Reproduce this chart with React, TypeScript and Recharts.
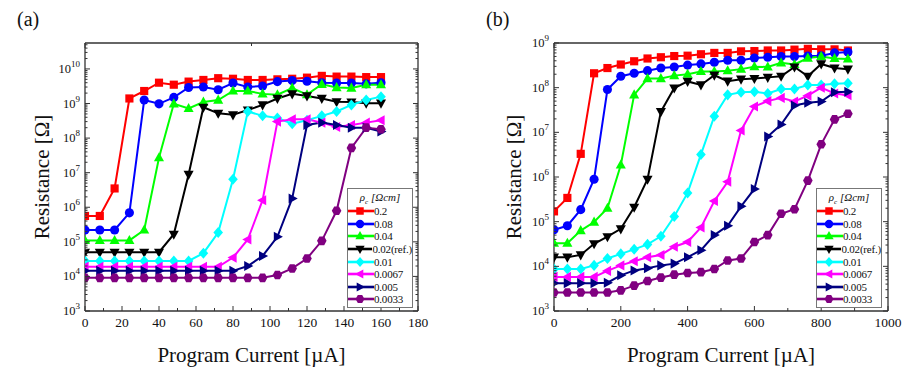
import React from 'react';
import { LineChart, Line, XAxis, YAxis, Legend } from 'recharts';

// panel (a): 8 uA steps
const currentA = [0, 8, 16, 24, 32, 40, 48, 56, 64, 72, 80, 88, 96, 104, 112, 120, 128, 136, 144, 152, 160];
const resA_02 = [5.6e5, 5.6e5, 3.5e6, 1.4e9, 2.3e9, 4.0e9, 3.5e9, 4.3e9, 4.8e9, 5.4e9, 5.2e9, 4.8e9, 4.8e9, 5.0e9, 5.2e9, 5.6e9, 6.3e9, 6.0e9, 6.0e9, 5.8e9, 5.8e9];
const resA_008 = [2.2e5, 2.2e5, 2.2e5, 6.9e5, 1.26e9, 9.8e8, 1.5e9, 2.9e9, 3.0e9, 2.5e9, 3.9e9, 3.0e9, 3.2e9, 4.3e9, 4.6e9, 4.4e9, 4.0e9, 3.9e9, 3.9e9, 3.7e9, 4.0e9];
const resA_004 = [1.1e5, 1.1e5, 1.1e5, 1.1e5, 2.2e5, 2.7e7, 9.8e8, 7.2e8, 1.1e9, 1.26e9, 2.3e9, 2.3e9, 1.9e9, 1.8e9, 2.8e9, 1.8e9, 3.6e9, 2.9e9, 2.8e9, 3.5e9, 3.5e9];
const resA_002 = [5.0e4, 5.0e4, 5.0e4, 5.0e4, 5.0e4, 5.0e4, 1.66e5, 8.9e6, 7.8e8, 5.2e8, 4.7e8, 6.5e8, 9.1e8, 1.4e9, 1.9e9, 1.66e9, 1.4e9, 1.12e9, 1.1e9, 1.02e9, 1.02e9];
const resA_001 = [2.8e4, 2.8e4, 2.8e4, 2.8e4, 2.8e4, 2.8e4, 2.8e4, 2.8e4, 4.7e4, 1.86e5, 6.5e6, 5.9e8, 4.4e8, 3.8e8, 2.6e8, 3.3e8, 4.4e8, 5.9e8, 9.1e8, 1.26e9, 1.58e9];
const resA_00067 = [1.9e4, 1.9e4, 1.9e4, 1.9e4, 1.9e4, 1.9e4, 1.9e4, 1.9e4, 1.9e4, 1.9e4, 3.5e4, 1.17e5, 1.6e6, 3.0e8, 3.5e8, 3.5e8, 2.8e8, 2.1e8, 2.4e8, 2.8e8, 3.3e8];
const resA_0005 = [1.45e4, 1.45e4, 1.45e4, 1.45e4, 1.45e4, 1.45e4, 1.45e4, 1.45e4, 1.45e4, 1.45e4, 1.45e4, 2.0e4, 3.9e4, 1.4e5, 1.8e6, 2.4e8, 2.8e8, 2.4e8, 2.0e8, 2.0e8, 1.55e8];
const resA_00033 = [9.1e3, 9.1e3, 9.1e3, 9.1e3, 9.1e3, 9.1e3, 9.1e3, 9.1e3, 9.1e3, 9.1e3, 9.1e3, 9.1e3, 9.1e3, 1.1e4, 1.7e4, 3.3e4, 1.07e5, 7.9e5, 5.2e7, 2.0e8, 1.8e8];

// panel (b): 40 uA steps
const currentB = [0, 40, 80, 120, 160, 200, 240, 280, 320, 360, 400, 440, 480, 520, 560, 600, 640, 680, 720, 760, 800, 840, 880];
const resB_02 = [1.7e5, 3.4e5, 3.3e6, 2.1e8, 2.75e8, 3.3e8, 3.9e8, 4.5e8, 4.8e8, 5.1e8, 5.2e8, 5.6e8, 6.0e8, 6.0e8, 6.5e8, 6.6e8, 6.8e8, 6.8e8, 7.1e8, 7.4e8, 7.2e8, 7.2e8, 6.8e8];
const resB_008 = [6.6e4, 8.1e4, 1.86e5, 8.9e5, 9.1e7, 1.8e8, 2.1e8, 2.4e8, 2.75e8, 2.9e8, 3.2e8, 3.4e8, 3.7e8, 4.1e8, 4.1e8, 4.6e8, 4.8e8, 5.0e8, 5.0e8, 5.1e8, 5.2e8, 6.0e8, 6.3e8];
const resB_004 = [3.3e4, 3.3e4, 6.3e4, 9.8e4, 2.0e5, 1.86e6, 6.9e7, 1.6e8, 1.6e8, 1.86e8, 2.0e8, 2.3e8, 2.3e8, 2.4e8, 2.6e8, 2.95e8, 2.9e8, 3.6e8, 3.3e8, 4.6e8, 5.0e8, 4.5e8, 4.4e8];
const resB_002 = [1.6e4, 1.6e4, 1.8e4, 3.2e4, 4.6e4, 6.9e4, 2.1e5, 8.9e5, 2.9e7, 9.8e7, 1.38e8, 1.15e8, 1.9e8, 1.4e8, 1.55e8, 1.6e8, 1.7e8, 1.8e8, 2.9e8, 1.8e8, 3.4e8, 2.75e8, 2.6e8];
const resB_001 = [8.7e3, 8.7e3, 8.7e3, 1.05e4, 1.5e4, 1.9e4, 2.4e4, 3.1e4, 4.7e4, 1.3e5, 4.4e5, 3.2e6, 2.3e7, 6.9e7, 7.9e7, 8.1e7, 7.4e7, 9.3e7, 9.3e7, 1.15e8, 1.15e8, 1.23e8, 1.26e8];
const resB_00067 = [5.8e3, 5.8e3, 5.8e3, 5.8e3, 7.9e3, 1.05e4, 1.3e4, 1.6e4, 1.8e4, 2.75e4, 3.5e4, 7.4e4, 2.9e5, 7.8e5, 1.1e7, 3.8e7, 5.0e7, 5.9e7, 4.9e7, 6.6e7, 1.0e8, 7.4e7, 6.8e7];
const resB_0005 = [4.2e3, 4.2e3, 4.2e3, 4.2e3, 4.3e3, 6.3e3, 8.1e3, 9.1e3, 1.05e4, 1.15e4, 1.6e4, 2.3e4, 5.0e4, 8.1e4, 2.2e5, 5.4e5, 8.1e6, 1.5e7, 4.0e7, 4.6e7, 4.9e7, 7.9e7, 8.1e7];
const resB_00033 = [2.6e3, 2.6e3, 2.6e3, 2.6e3, 2.6e3, 2.9e3, 3.7e3, 4.7e3, 5.6e3, 6.5e3, 7.1e3, 7.4e3, 8.7e3, 1.35e4, 1.5e4, 3.5e4, 5.0e4, 1.5e5, 1.9e5, 8.3e5, 5.4e6, 1.95e7, 2.6e7];

const seriesNames = ['0.2', '0.08', '0.04', '0.02(ref.)', '0.01', '0.0067', '0.005', '0.0033'];
const seriesColors = ['#ff0000', '#0000ff', '#00ff00', '#000000', '#00ffff', '#ff00ff', '#000080', '#800080'];
const seriesShapes = ['square', 'circle', 'up', 'down', 'diamond', 'left', 'right', 'hex'];

const xTicksA = [0, 10, 20, 30, 40, 50, 60, 70, 80, 90, 100, 110, 120, 130, 140, 150, 160, 170, 180];
const xTicksB = [0, 100, 200, 300, 400, 500, 600, 700, 800, 900, 1000];
const decadesA = [3, 4, 5, 6, 7, 8, 9, 10];
const decadesB = [3, 4, 5, 6, 7, 8, 9];

const FONT = '"Liberation Serif", "Times New Roman", serif';
const AXIS = '#333';

const logTicks = (decades: number[], max: number) => {
  const out: number[] = [];
  decades.forEach((e) => {
    for (let m = 1; m <= 9; m++) {
      const v = m * Math.pow(10, e);
      if (v <= max) out.push(v);
    }
  });
  return out;
};

const isDecade = (v: number) => Math.abs(Math.log10(v) - Math.round(Math.log10(v))) < 1e-6;

const Marker = ({ cx, cy, shape, color, r = 4.8 }: any) => {
  if (cx == null || cy == null) return null;
  const p = (pts: number[][]) => pts.map(([a, b]) => `${cx + a * r},${cy + b * r}`).join(' ');
  switch (shape) {
    case 'square':
      return <rect x={cx - r * 0.85} y={cy - r * 0.85} width={r * 1.7} height={r * 1.7} fill={color} />;
    case 'circle':
      return <circle cx={cx} cy={cy} r={r * 0.95} fill={color} />;
    case 'up':
      return <polygon points={p([[0, -1.15], [1.05, 0.75], [-1.05, 0.75]])} fill={color} />;
    case 'down':
      return <polygon points={p([[0, 1.15], [1.05, -0.75], [-1.05, -0.75]])} fill={color} />;
    case 'diamond':
      return <polygon points={p([[0, -1.15], [1, 0], [0, 1.15], [-1, 0]])} fill={color} />;
    case 'left':
      return <polygon points={p([[-1.15, 0], [0.75, -1.05], [0.75, 1.05]])} fill={color} />;
    case 'right':
      return <polygon points={p([[1.15, 0], [-0.75, -1.05], [-0.75, 1.05]])} fill={color} />;
    default:
      return <polygon points={p([[0.5, -0.9], [1, 0], [0.5, 0.9], [-0.5, 0.9], [-1, 0], [-0.5, -0.9]])} fill={color} />;
  }
};

const BottomTick = ({ x, y, payload, step }: any) => {
  const major = payload.value % step === 0;
  return (
    <g>
      <line x1={x} x2={x} y1={y} y2={y - (major ? 5 : 3)} stroke={AXIS} />
      {major && (
        <text x={x} y={y + 16} textAnchor="middle" style={{ fontFamily: FONT, fontSize: 13.5 }} fill="#111">
          {payload.value}
        </text>
      )}
    </g>
  );
};

const TopTick = ({ x, y, payload, step }: any) => {
  const major = payload.value % step === 0;
  return <line x1={x} x2={x} y1={y} y2={y + (major ? 5 : 3)} stroke={AXIS} />;
};

const LeftTick = ({ x, y, payload }: any) => {
  const v = payload.value;
  const major = isDecade(v);
  return (
    <g>
      <line x1={x} x2={x + (major ? 5 : 2.5)} y1={y} y2={y} stroke={AXIS} />
      {major && (
        <text x={x - 5} y={y + 4} textAnchor="end" style={{ fontFamily: FONT, fontSize: 12.5 }} fill="#111">
          10
          <tspan dy={-6} style={{ fontSize: 9 }}>
            {Math.round(Math.log10(v))}
          </tspan>
        </text>
      )}
    </g>
  );
};

const RightTick = ({ x, y, payload }: any) => {
  const major = isDecade(payload.value);
  return <line x1={x} x2={x - (major ? 5 : 2.5)} y1={y} y2={y} stroke={AXIS} />;
};

const LegendBox = () => (
  <div
    style={{
      border: '1px solid #777',
      background: '#fff',
      fontFamily: FONT,
      fontSize: 11,
      color: '#111',
      boxSizing: 'border-box',
      paddingBottom: 1,
    }}
  >
    <div style={{ height: 16, lineHeight: '16px', textAlign: 'center', fontStyle: 'italic' }}>
      ρ<sub style={{ fontSize: 7 }}>c</sub> [Ωcm]
    </div>
    {seriesNames.map((n, i) => (
      <div key={n} style={{ display: 'flex', alignItems: 'center', height: 12.6 }}>
        <svg width={26} height={12} style={{ display: 'block' }}>
          <line x1={0} x2={26} y1={6} y2={6} stroke={seriesColors[i]} strokeWidth={2.6} />
          <Marker cx={12} cy={6} shape={seriesShapes[i]} color={seriesColors[i]} r={4.4} />
        </svg>
        <span style={{ lineHeight: '12px', letterSpacing: -0.2 }}>{n}</span>
      </div>
    ))}
  </div>
);

const buildRows = (xs: number[], series: number[][]) =>
  xs.map((x, i) => {
    const row: any = { x };
    series.forEach((s, k) => (row[`s${k}`] = s[i]));
    return row;
  });

const rowsA = buildRows(currentA, [resA_02, resA_008, resA_004, resA_002, resA_001, resA_00067, resA_0005, resA_00033]);
const rowsB = buildRows(currentB, [resB_02, resB_008, resB_004, resB_002, resB_001, resB_00067, resB_0005, resB_00033]);

type PanelProps = {
  rows: any[];
  xMax: number;
  xTicks: number[];
  xStep: number;
  yTop: number;
  yTicks: number[];
  margin: { top: number; right: number; bottom: number; left: number };
  yLabelOffset: number;
  legendLeft: number;
};

function Panel({ rows, xMax, xTicks, xStep, yTop, yTicks, margin, yLabelOffset, legendLeft }: PanelProps) {
  return (
    <LineChart width={460} height={381} data={rows} margin={margin}>
      <XAxis
        dataKey="x"
        type="number"
        domain={[0, xMax]}
        ticks={xTicks}
        interval={0}
        allowDataOverflow
        height={30}
        tickSize={0}
        tickMargin={0}
        tickLine={false}
        axisLine={{ stroke: AXIS, strokeWidth: 1.3 }}
        tick={<BottomTick step={xStep} />}
        label={{
          value: 'Program Current [µA]',
          position: 'bottom',
          offset: 6,
          style: { fontFamily: FONT, fontSize: 21, fill: '#111' },
        }}
      />
      <XAxis
        xAxisId="top"
        orientation="top"
        type="number"
        domain={[0, xMax]}
        ticks={xTicks}
        interval={0}
        allowDataOverflow
        height={1}
        tickSize={0}
        tickMargin={0}
        tickLine={false}
        axisLine={{ stroke: AXIS, strokeWidth: 1.3 }}
        tick={<TopTick step={xStep} />}
      />
      <YAxis
        type="number"
        scale="log"
        domain={[1e3, yTop]}
        ticks={yTicks}
        interval={0}
        allowDataOverflow
        width={40}
        tickSize={0}
        tickMargin={0}
        tickLine={false}
        axisLine={{ stroke: AXIS, strokeWidth: 1.3 }}
        tick={<LeftTick />}
        label={{
          value: 'Resistance [Ω]',
          angle: -90,
          position: 'left',
          offset: yLabelOffset,
          style: { fontFamily: FONT, fontSize: 21, fill: '#111', textAnchor: 'middle' },
        }}
      />
      <YAxis
        yAxisId="right"
        orientation="right"
        type="number"
        scale="log"
        domain={[1e3, yTop]}
        ticks={yTicks}
        interval={0}
        allowDataOverflow
        width={1}
        tickSize={0}
        tickMargin={0}
        tickLine={false}
        axisLine={{ stroke: AXIS, strokeWidth: 1.3 }}
        tick={<RightTick />}
      />
      <Legend
        layout="vertical"
        align="center"
        verticalAlign="middle"
        content={() => <LegendBox />}
        wrapperStyle={{ left: legendLeft, top: 188, width: 66 }}
      />
      {seriesNames.map((n, i) => (
        <Line
          key={n}
          dataKey={`s${i}`}
          name={n}
          stroke={seriesColors[i]}
          strokeWidth={2}
          isAnimationActive={false}
          activeDot={false}
          dot={(p: any) => (
            <Marker key={`${n}-${p.index}`} cx={p.cx} cy={p.cy} shape={seriesShapes[i]} color={seriesColors[i]} />
          )}
        />
      ))}
    </LineChart>
  );
}

export default function App() {
  const tag = { position: 'absolute' as const, top: 8, fontFamily: FONT, fontSize: 20, color: '#111' };
  return (
    <div style={{ position: 'absolute', left: 0, top: 0, width: 916, height: 381, background: '#fff', fontFamily: FONT }}>
      <div style={{ position: 'absolute', left: 0, top: 0 }}>
        <Panel
          rows={rowsA}
          xMax={180}
          xTicks={xTicksA}
          xStep={20}
          yTop={Math.pow(10, 10.75)}
          yTicks={logTicks(decadesA, Math.pow(10, 10.75))}
          margin={{ top: 42, right: 41, bottom: 40, left: 45 }}
          yLabelOffset={3}
          legendLeft={347}
        />
      </div>
      <div style={{ position: 'absolute', left: 456, top: 0 }}>
        <Panel
          rows={rowsB}
          xMax={1000}
          xTicks={xTicksB}
          xStep={200}
          yTop={1e9}
          yTicks={logTicks(decadesB, 1e9)}
          margin={{ top: 42, right: 27, bottom: 40, left: 58 }}
          yLabelOffset={0.5}
          legendLeft={360}
        />
      </div>
      <div style={{ ...tag, left: 17 }}>(a)</div>
      <div style={{ ...tag, left: 486 }}>(b)</div>
    </div>
  );
}
